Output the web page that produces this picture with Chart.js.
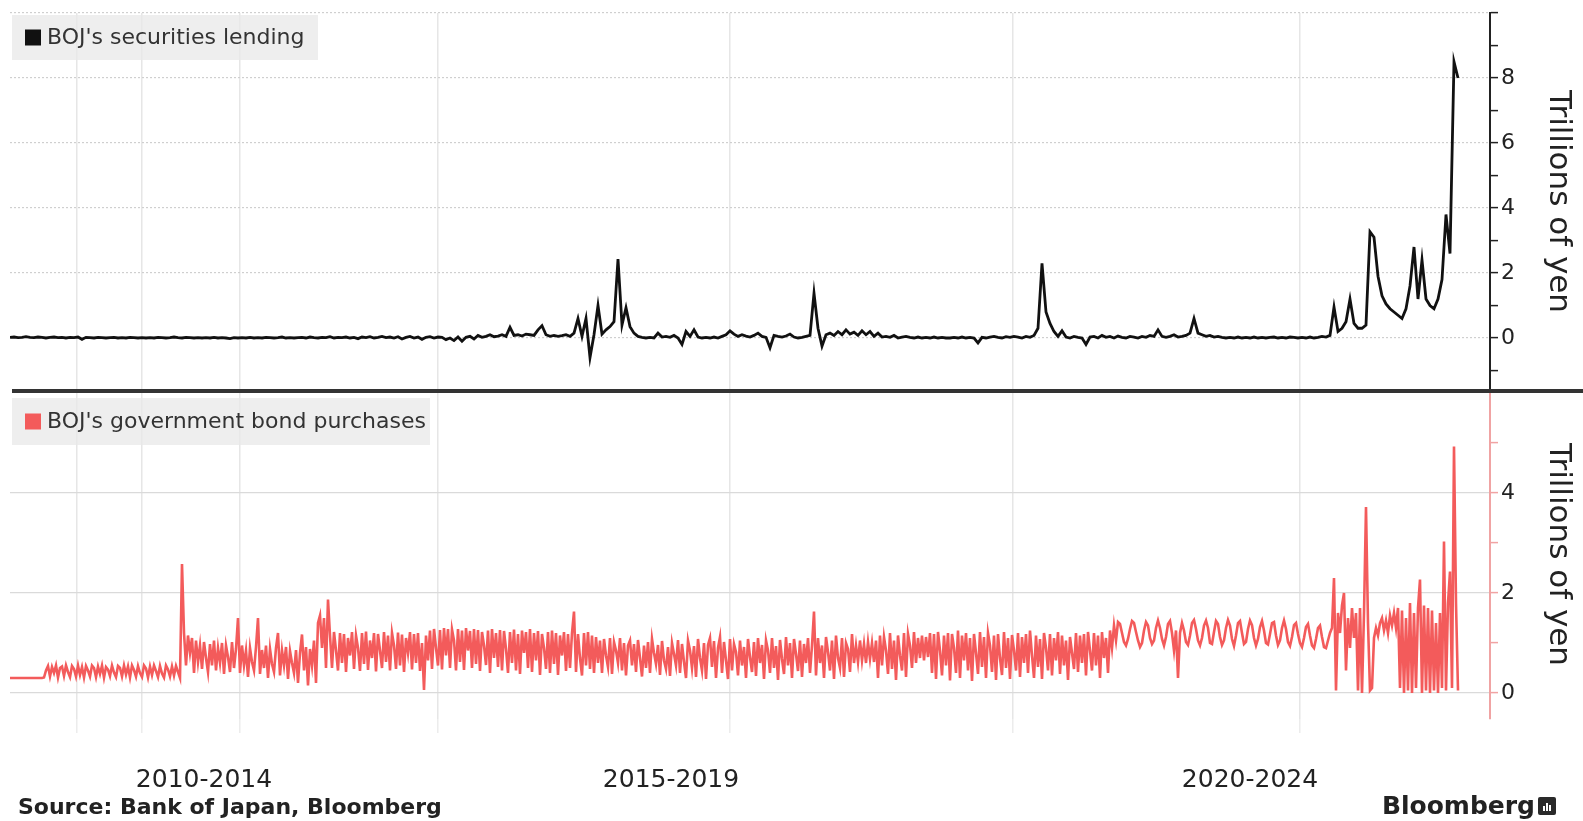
<!DOCTYPE html>
<html>
<head>
<meta charset="utf-8">
<title>BOJ securities lending and government bond purchases</title>
<script src="https://cdn.jsdelivr.net/npm/chart.js@4.4.1/dist/chart.umd.min.js"></script>
<style>
  html, body { margin: 0; padding: 0; background: #ffffff; }
  body { width: 1583px; height: 821px; position: relative; overflow: hidden; font-family: "DejaVu Sans", sans-serif; }
  #lendingChart { position: absolute; left: 0; top: 0; }
  #purchaseChart { position: absolute; left: 0; top: 389px; }
  .source { position: absolute; left: 18px; top: 794px; font: bold 22px "DejaVu Sans", sans-serif; color: #222; white-space: nowrap; }
  .brand { position: absolute; right: 48px; top: 791px; font: bold 25px "DejaVu Sans", sans-serif; color: #222; white-space: nowrap; }
  .brand-mark { position: absolute; left: 1538px; top: 797px; width: 18px; height: 18px; background: #2a2a2a; border-radius: 2px; }
  .brand-mark i { position: absolute; bottom: 4px; width: 2px; background: #fff; }
</style>
</head>
<body>
<canvas id="lendingChart" width="1583" height="390"></canvas>
<canvas id="purchaseChart" width="1583" height="432"></canvas>
<div class="source">Source: Bank of Japan, Bloomberg</div>
<div class="brand">Bloomberg</div>
<div class="brand-mark"><i style="left:5px;height:5px"></i><i style="left:8px;height:8px"></i><i style="left:11px;height:6px"></i></div>
<script>
// Period labels along the bottom axis and where they sit on the index scale
const periodLabels = ['2010-2014', '2015-2019', '2020-2024'];
const periodPositions = [48.5, 165.25, 310];
// Vertical grid line positions on the index scale
const gridPositions = [16.75, 33, 57.5, 107, 180, 250.75, 322.5];

// Right-axis ticks (trillions of yen)
const lendingTicks = [-1, 0, 1, 2, 3, 4, 5, 6, 7, 8, 9, 10];
const lendingTickLabels = [0, 2, 4, 6, 8];
const purchaseTicks = [0, 1, 2, 3, 4, 5];
const purchaseTickLabels = [0, 2, 4];

// Sampling step of each series on the index scale
const lendingStep = 1;
const purchaseStep = 0.5;

// BOJ's securities lending, trillions of yen
const lending = [
  0.02, 0.03, 0.01, 0.02, 0.04, 0.02, 0.01, 0.03, 0.02, 0.00, 0.02, 0.03,
  0.01, 0.02, 0.00, 0.02, 0.01, 0.03, -0.04, 0.02, 0.01, 0.00, 0.02, 0.01,
  0.00, 0.01, 0.02, 0.00, 0.01, 0.00, 0.02, 0.01, 0.00, 0.01, 0.00, 0.01,
  0.00, 0.02, 0.01, 0.00, 0.01, 0.03, 0.01, 0.00, 0.02, 0.01, 0.00, 0.01,
  0.00, 0.01, 0.00, 0.02, 0.00, 0.01, 0.00, -0.02, 0.01, 0.00, 0.01, 0.00,
  0.02, 0.00, 0.01, 0.00, 0.02, 0.01, 0.00, 0.01, 0.03, 0.00, 0.01, 0.00,
  0.01, 0.02, 0.00, 0.03, 0.01, 0.00, 0.02, 0.01, 0.04, 0.00, 0.02, 0.01,
  0.03, 0.00, 0.02, -0.02, 0.03, 0.01, 0.04, 0.00, 0.02, 0.05, 0.01, 0.03,
  0.00, 0.04, -0.03, 0.02, 0.05, 0.00, 0.03, -0.04, 0.02, 0.04, 0.00, 0.03,
  0.02, -0.05, 0.00, -0.08, 0.03, -0.10, 0.02, 0.05, -0.03, 0.08, 0.02, 0.05,
  0.10, 0.04, 0.06, 0.10, 0.05,
  0.33, 0.08, 0.10, 0.06, 0.12, 0.10, 0.08, 0.25, 0.38, 0.10, 0.05, 0.08,
  0.05, 0.07, 0.10, 0.05, 0.15, 0.60, 0.05, 0.60, -0.60, 0.10, 1.00, 0.12,
  0.25, 0.35, 0.50, 2.43, 0.40, 0.93, 0.35, 0.15, 0.05, 0.02, 0.00, 0.02,
  0.00, 0.15, 0.03, 0.05, 0.02, 0.08, 0.00, -0.20, 0.20, 0.05, 0.25, 0.03,
  0.00, 0.02, 0.00, 0.03, 0.00, 0.05, 0.10, 0.22, 0.12, 0.05, 0.10, 0.06,
  0.03, 0.08, 0.15, 0.05, 0.02, -0.30, 0.08, 0.05, 0.03, 0.06, 0.12, 0.03,
  0.00, 0.02, 0.05, 0.08, 1.38, 0.30, -0.25, 0.10, 0.15, 0.08, 0.20, 0.10,
  0.25, 0.12, 0.18, 0.08, 0.22, 0.10, 0.20, 0.05, 0.15, 0.03, 0.05, 0.02,
  0.08, 0.00, 0.03, 0.05, 0.02, 0.00, 0.03, 0.00, 0.02, 0.00, 0.03, 0.00,
  0.02, 0.00, 0.00, 0.02, 0.00, 0.03, 0.00, 0.02, 0.00, -0.15, 0.02, 0.00,
  0.03, 0.05, 0.02, 0.00, 0.04, 0.02, 0.05, 0.03, 0.00, 0.05, 0.02, 0.08,
  0.30, 2.30, 0.80, 0.45, 0.20, 0.05, 0.22, 0.03, 0.00, 0.05, 0.02, 0.00,
  -0.20, 0.03, 0.05, 0.00, 0.08, 0.02, 0.05, 0.00, 0.06, 0.02, 0.00, 0.05,
  0.03, 0.00, 0.05, 0.02, 0.08, 0.05, 0.25, 0.05, 0.02, 0.05, 0.10, 0.03,
  0.05, 0.08, 0.15, 0.60, 0.15, 0.10, 0.05, 0.08, 0.03, 0.05, 0.02, 0.00,
  0.02, 0.00, 0.03, 0.00, 0.02, 0.00, 0.03, 0.00, 0.02, 0.00, 0.02, 0.03,
  0.00, 0.02, 0.00, 0.03, 0.02, 0.00, 0.02, 0.00, 0.03, 0.00, 0.02, 0.05,
  0.03, 0.08, 0.95, 0.20, 0.30, 0.50, 1.20, 0.45, 0.30, 0.30, 0.40, 3.27,
  3.10, 1.90, 1.30, 1.05, 0.90, 0.80, 0.70, 0.60, 0.90, 1.60, 2.80, 1.20,
  2.40, 1.20, 1.00, 0.90, 1.20, 1.80, 3.80, 2.60, 8.50, 8.00
];

// BOJ's government bond purchases, trillions of yen
const purchases = [
  0.30, 0.30, 0.30, 0.30, 0.30, 0.30, 0.30, 0.30, 0.30, 0.30,
  0.30, 0.30, 0.30, 0.30, 0.30, 0.30, 0.30, 0.31,
  0.45, 0.54, 0.33, 0.52, 0.40, 0.55, 0.31, 0.50, 0.53, 0.34,
  0.55, 0.42, 0.32, 0.54, 0.48, 0.33, 0.55, 0.36, 0.52, 0.31,
  0.54, 0.45, 0.33, 0.55, 0.50, 0.32, 0.53, 0.38, 0.55, 0.31,
  0.52, 0.47, 0.34, 0.55, 0.41, 0.32, 0.54, 0.50, 0.33, 0.55,
  0.37, 0.53, 0.31, 0.55, 0.46, 0.33, 0.54, 0.40, 0.32, 0.55,
  0.49, 0.31, 0.53, 0.36, 0.55, 0.44, 0.32, 0.54, 0.39, 0.31,
  0.55, 0.47, 0.33, 0.53, 0.35, 0.54, 0.42, 0.30,
  2.58,
  1.20, 0.55, 1.15, 0.80, 1.10, 0.40, 1.05, 0.62, 0.95, 0.48,
  1.02, 0.70, 0.42, 0.98, 0.55, 1.05, 0.45, 0.90, 0.60, 1.00,
  0.38, 0.95, 0.72, 0.42, 1.02, 0.50, 0.88, 1.50, 0.40, 0.95,
  0.55, 0.85, 0.32, 0.90, 0.62, 0.45, 0.92, 1.50, 0.38, 0.86,
  0.50, 0.95, 0.30, 0.88, 0.58, 0.42, 0.90, 1.20, 0.35, 0.85,
  0.55, 0.92, 0.28, 0.84, 0.60, 0.40, 0.86, 0.20, 0.80, 1.17,
  0.45, 0.92, 0.15, 0.88, 0.55, 1.05, 0.20, 1.40, 1.55,
  0.90, 1.50, 0.50, 1.87,
  1.15, 0.50, 1.22, 0.85, 0.45, 1.20, 0.60, 1.18, 0.42, 1.10,
  0.75, 1.22, 0.48, 1.15, 0.90, 0.44, 1.20, 0.58, 1.23, 0.46,
  1.05, 0.70, 1.20, 0.43, 1.18, 0.85, 0.50, 1.22, 0.62, 1.15,
  0.45, 1.20, 0.95, 0.48, 1.21, 0.55, 1.17, 0.42, 1.10, 0.80,
  1.22, 0.47, 1.18, 0.60, 1.20, 0.44, 1.00, 0.06, 1.15, 0.65,
  1.25, 0.48, 1.28, 0.90, 0.55, 1.26, 0.47, 1.30, 0.75, 1.28,
  0.50, 1.27, 1.05, 0.45, 1.28, 0.62, 1.25, 0.46, 1.30, 0.85,
  1.24, 0.50, 1.28, 0.58, 1.26, 0.44, 1.22, 0.95, 0.56, 1.25,
  0.40, 1.28, 0.70, 1.20, 0.52, 1.26, 0.45, 1.24, 0.88, 0.40,
  1.22, 0.60, 1.27, 0.45, 1.18, 0.38, 1.25, 0.80, 1.22, 0.50,
  1.28, 0.42, 1.20, 0.65, 1.24, 0.36, 1.18, 0.90, 0.48, 1.22,
  0.40, 1.25, 0.58, 1.20, 0.36, 1.15, 0.75, 1.22, 0.44, 1.18,
  0.50, 1.20, 1.63, 0.42, 1.18, 0.70, 0.35, 1.20, 0.55, 1.22,
  0.48, 1.15, 0.40, 1.12, 0.60,
  1.05, 0.40, 1.08, 0.75, 0.52, 1.10, 0.38, 1.02, 0.85, 0.60,
  1.10, 0.45, 1.00, 0.35, 0.95, 1.05, 0.55, 0.98, 0.42, 1.06,
  0.70, 0.33, 0.95, 0.50, 1.02, 0.40, 1.08, 0.80, 0.58, 0.96,
  0.36, 1.04, 0.65, 0.48, 0.92, 0.34, 1.00, 0.78, 0.55, 1.06,
  0.40, 0.98, 0.62, 0.30, 1.05, 0.85, 0.50, 0.94, 0.32, 1.08,
  0.70, 0.45, 1.00, 0.28, 0.96, 1.10, 0.52, 1.04, 0.30, 0.90,
  1.12, 0.40, 1.02, 0.65, 0.28, 1.08, 0.45, 0.98, 0.82, 0.35,
  1.05, 0.55, 0.92, 0.30, 1.08, 0.72, 0.42, 1.02, 0.34, 1.10,
  0.60, 0.96, 0.28, 1.05, 0.85, 0.40, 1.10, 0.50, 0.94, 0.26,
  1.06, 0.68, 0.38, 1.12, 0.55, 1.00, 0.30, 1.08, 0.78, 0.44,
  1.05, 0.32, 0.98, 0.60, 1.10, 0.40, 0.95,
  1.63,
  0.35, 1.10, 0.60, 0.95, 0.30, 1.12, 0.82, 0.45, 1.05, 0.28,
  1.15, 0.70, 0.50, 1.10, 0.32, 1.00, 0.88, 0.42, 1.18, 0.60,
  0.95, 0.62, 1.05, 0.65, 0.98, 0.60, 1.02, 0.68, 1.00, 0.62,
  1.05, 0.30, 1.15, 0.55, 1.12, 0.85, 0.38, 1.20, 0.48, 1.05,
  0.26, 1.15, 0.75, 0.45, 1.20, 0.32, 1.18, 0.95, 0.50, 1.22,
  0.60, 1.10, 0.70, 1.15, 0.65, 1.12, 0.72, 1.20, 0.40, 1.18,
  0.28, 1.22, 0.85, 0.35, 1.15, 0.55, 1.20, 0.25, 1.18, 0.90,
  0.40, 1.25, 0.30, 1.15, 0.65, 1.20, 0.45, 1.10, 0.24, 1.18,
  0.80, 0.38, 1.22, 0.52, 1.12, 0.30, 1.20, 0.95, 0.42, 1.15,
  0.26, 1.18, 0.70, 0.36, 1.22, 0.50, 1.10, 0.28, 1.16, 0.85,
  0.45, 1.20, 0.32, 1.12, 0.60, 1.18, 0.40, 1.25, 0.75, 0.30,
  1.15, 0.52, 1.08, 0.28, 1.20, 0.90, 0.45, 1.18, 0.35, 1.10,
  0.65, 1.22, 0.38, 1.15, 0.55, 1.05, 0.26, 1.12, 0.80, 0.48,
  1.20, 0.42, 1.15, 0.60, 1.18, 0.35, 1.22, 0.85, 0.45, 1.20,
  0.55, 1.15, 0.30, 1.22, 0.70, 1.10, 0.40, 1.25, 0.90, 1.35,
  1.05, 1.42,
  1.38, 1.20, 1.02, 0.95, 1.08, 1.28, 1.44, 1.40, 1.22, 1.05,
  0.92, 1.00, 1.25, 1.42, 1.35, 1.10, 0.98, 1.05, 1.30, 1.45,
  1.30, 1.08, 0.95, 1.12, 1.38, 1.44, 1.20, 0.85, 1.25, 0.30,
  1.20, 1.40, 1.25, 1.02, 0.96, 1.15, 1.40, 1.46, 1.28, 1.05,
  0.95, 1.10, 1.35, 1.45, 1.30, 1.00, 0.98, 1.22, 1.44, 1.38,
  1.12, 0.96, 1.05, 1.30, 1.46, 1.35, 1.08, 0.94, 1.15, 1.40,
  1.44, 1.20, 0.98, 1.02, 1.28, 1.45, 1.36, 1.10, 0.95, 1.08,
  1.32, 1.44, 1.25, 1.00, 0.97, 1.18, 1.40, 1.42, 1.15, 0.96,
  1.05, 1.30, 1.45, 1.28, 1.02, 0.94, 1.12, 1.36, 1.40, 1.18,
  1.00, 0.92, 1.10, 1.32, 1.38, 1.15, 0.95, 0.90, 1.08, 1.30,
  1.35, 1.12, 0.92, 0.90, 1.05, 1.20, 1.30,
  2.30, 0.05, 1.60, 1.20, 1.75, 2.00, 0.45, 1.50, 0.90, 1.70,
  1.10, 1.60, 0.05, 1.70, 0.00, 1.60, 3.72, 1.40, 0.05, 0.10,
  1.10, 1.30, 1.15, 1.40, 1.50, 1.25, 1.45, 1.20, 1.55, 1.35,
  1.60, 1.30, 1.70, 0.10, 1.65, 0.00, 1.50, 0.05, 1.80, 0.00,
  1.60, 0.10, 1.70, 2.27, 0.00, 1.75, 0.05, 1.70, 0.00, 1.65,
  0.05, 1.40, 0.00, 1.60, 0.10, 3.03, 0.05, 1.80, 2.43, 0.10,
  4.93, 1.80, 0.05
];

const X_MAX = 370;
const FONT = '"DejaVu Sans", sans-serif';

// Grey key box with a coloured square, drawn in the panel's top-left corner
const panelKey = {
  id: 'panelKey',
  afterDraw(chart, args, opts) {
    const ctx = chart.ctx;
    const ds = chart.data.datasets[0];
    ctx.save();
    ctx.fillStyle = opts.background;
    ctx.fillRect(opts.x, opts.y, opts.width, opts.height);
    ctx.fillStyle = ds.borderColor;
    ctx.fillRect(opts.x + 13, opts.y + opts.height / 2 - 8, 16, 16);
    ctx.fillStyle = '#333';
    ctx.font = '22px ' + FONT;
    ctx.textBaseline = 'middle';
    ctx.fillText(ds.label, opts.x + 35, opts.y + opts.height / 2 + 1);
    ctx.restore();
  }
};

// Heavy rule separating the two panels
const panelRule = {
  id: 'panelRule',
  afterDraw(chart, args, opts) {
    if (!opts.draw) return;
    const ctx = chart.ctx;
    ctx.save();
    ctx.fillStyle = '#333';
    ctx.fillRect(12, 0, chart.width - 12, 4);
    ctx.restore();
  }
};

function points(values, step) {
  return values.map((v, i) => ({ x: i * step, y: v }));
}

// Keep the plot area exactly where the layout padding puts it
function noEdgePadding(s) {
  s.paddingTop = 0; s.paddingBottom = 0; s.paddingLeft = 0; s.paddingRight = 0;
}

function xGridScale(extra) {
  return Object.assign({
    type: 'linear',
    min: 0,
    max: X_MAX,
    afterBuildTicks: s => { s.ticks = gridPositions.map(v => ({ value: v })); },
    afterFit: s => { noEdgePadding(s); },
    ticks: { display: false },
    grid: { color: '#e6e6e6', lineWidth: 1.5, drawTicks: false },
    border: { display: false }
  }, extra || {});
}

function yScale(cfg) {
  return {
    position: 'right',
    min: cfg.min,
    max: cfg.max,
    afterBuildTicks: s => { s.ticks = cfg.ticks.map(v => ({ value: v })); },
    afterFit: s => { s.width = 93; noEdgePadding(s); },
    ticks: {
      autoSkip: false,
      padding: 3,
      color: '#222',
      font: { family: FONT, size: 22 },
      callback: v => cfg.labels.includes(v) ? String(v) : ''
    },
    grid: {
      color: c => (c.tick && cfg.gridAt.includes(c.tick.value)) ? cfg.gridColor : 'rgba(0,0,0,0)',
      lineWidth: 1.2,
      tickLength: 8,
      tickColor: cfg.axisColor,
      tickWidth: 1.5
    },
    border: { display: true, color: cfg.axisColor, width: 2, dash: cfg.dash },
    title: {
      display: true,
      text: 'Trillions of yen',
      color: '#222',
      font: { family: FONT, size: 31 },
      padding: { top: 6, bottom: 0 }
    }
  };
}

new Chart(document.getElementById('lendingChart'), {
  type: 'line',
  data: {
    datasets: [{
      label: "BOJ's securities lending",
      data: points(lending, lendingStep),
      borderColor: '#111111',
      borderWidth: 2.8,
      pointRadius: 0,
      tension: 0,
      fill: false
    }]
  },
  options: {
    responsive: false,
    animation: false,
    devicePixelRatio: 1,
    layout: { padding: { left: 10, top: 13, right: 0, bottom: 0 } },
    plugins: {
      legend: { display: false },
      tooltip: { enabled: false },
      panelKey: { x: 12, y: 15, width: 306, height: 45, background: 'rgba(232,232,232,0.75)' },
      panelRule: { draw: false }
    },
    scales: {
      x: xGridScale(),
      y: yScale({
        min: -1.6, max: 10, ticks: lendingTicks, labels: lendingTickLabels,
        gridAt: [0, 2, 4, 6, 8, 10], gridColor: '#cfcfcf', axisColor: '#222', dash: [2, 2]
      })
    }
  },
  plugins: [panelKey, panelRule]
});

new Chart(document.getElementById('purchaseChart'), {
  type: 'line',
  data: {
    datasets: [{
      label: "BOJ's government bond purchases",
      data: points(purchases, purchaseStep),
      borderColor: '#f35b5b',
      borderWidth: 2.6,
      pointRadius: 0,
      tension: 0,
      fill: false
    }]
  },
  options: {
    responsive: false,
    animation: false,
    devicePixelRatio: 1,
    layout: { padding: { left: 10, top: 1, right: 0, bottom: 0 } },
    plugins: {
      legend: { display: false },
      tooltip: { enabled: false },
      panelKey: { x: 12, y: 9, width: 418, height: 47, background: 'rgba(232,232,232,0.75)' },
      panelRule: { draw: true }
    },
    scales: {
      x: xGridScale({
        grid: { color: '#e6e6e6', lineWidth: 1.5, drawTicks: true, tickLength: 14, tickColor: '#ececec', tickWidth: 1.5 },
        afterFit: s => { s.height = 14; noEdgePadding(s); }
      }),
      xl: {
        type: 'linear',
        position: 'bottom',
        min: 0,
        max: X_MAX,
        afterBuildTicks: s => { s.ticks = periodPositions.map(v => ({ value: v })); },
        afterFit: s => { s.height = 88; noEdgePadding(s); },
        ticks: {
          autoSkip: false,
          maxRotation: 0,
          padding: 24,
          color: '#222',
          font: { family: FONT, size: 25 },
          callback: (v, i) => periodLabels[i]
        },
        grid: { display: false },
        border: { display: false }
      },
      y: yScale({
        min: -0.52, max: 6.06, ticks: purchaseTicks, labels: purchaseTickLabels,
        gridAt: [0, 2, 4], gridColor: '#dadada', axisColor: '#f0a3a3', dash: []
      })
    }
  },
  plugins: [panelKey, panelRule]
});
</script>
</body>
</html>
